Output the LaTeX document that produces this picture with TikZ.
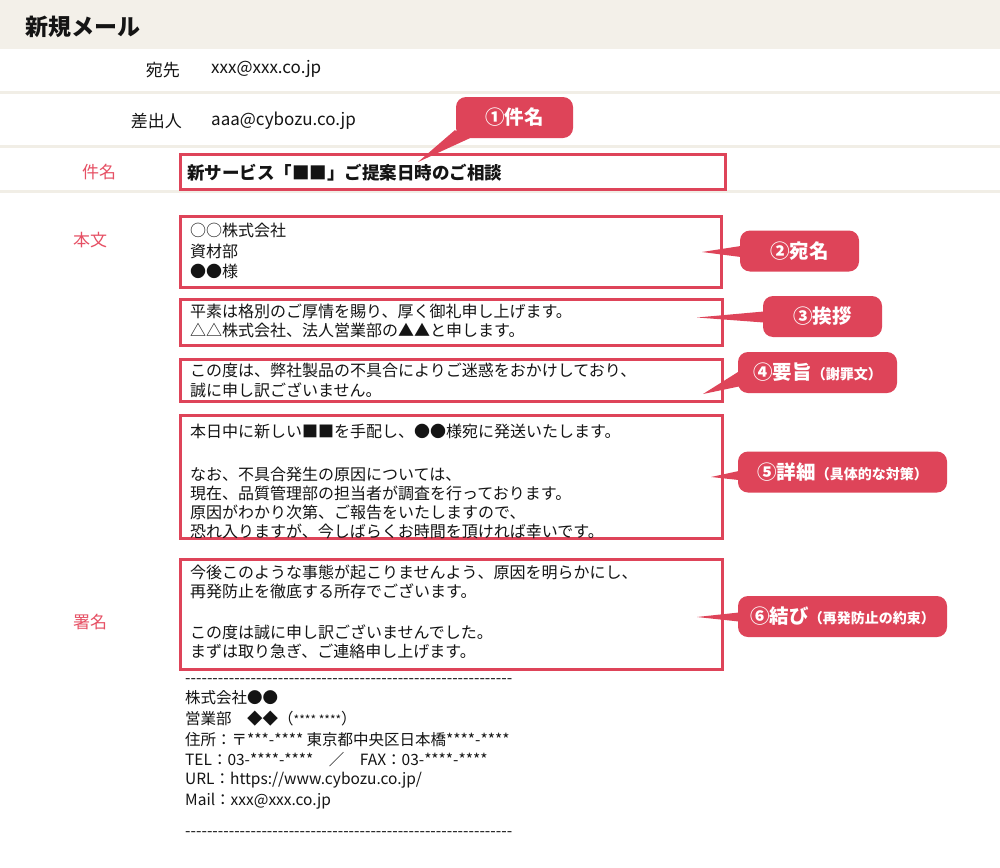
\documentclass[tikz,border=0pt]{standalone}
\usepackage{fontspec}
\usepackage{graphicx}
\setmainfont{Noto Sans CJK JP}
\definecolor{hdrbg}{RGB}{243,240,233}
\definecolor{sepc}{RGB}{241,238,230}
\definecolor{mred}{RGB}{222,68,89}
\definecolor{lred}{RGB}{230,80,100}
\definecolor{txt}{RGB}{20,20,20}
\newcommand{\hy}{-\kern0pt}
\newcommand{\hyten}{\hy\hy\hy\hy\hy\hy\hy\hy\hy\hy}
\newcommand{\hyph}{\hyten\hyten\hyten\hyten\hyten\hyten}
\newcommand{\paren}[1]{{\fontsize{14}{16}\selectfont #1}}
\begin{document}
\begin{tikzpicture}[x=1pt,y=-1pt,
  sepline/.style={draw=sepc, line width=3pt},
  redbox/.style={draw=mred, line width=3pt, inner sep=0pt},
  btext/.style={anchor=west, inner sep=0pt, text=txt, text height=14.1pt, text depth=1.9pt, font=\fontsize{16}{20}\selectfont},
  stext/.style={anchor=west, inner sep=0pt, text=txt, text height=13.6pt, text depth=1.9pt, font=\fontsize{15.5}{19}\selectfont},
  ftext/.style={inner sep=0pt, text=txt, text height=15pt, text depth=2pt, font=\fontsize{17}{20}\selectfont},
  flabel/.style={inner sep=0pt, text=lred, text height=15pt, text depth=2pt, font=\fontsize{17}{20}\selectfont},
  callout/.style={fill=mred, rounded corners=10pt, text=white, inner sep=0pt, minimum height=41pt, font=\fontsize{19.5}{22}\selectfont\bfseries},
  tailc/.style={fill=mred, draw=none}
]
\useasboundingbox (0,0) rectangle (1000,867);
\fill[white] (0,0) rectangle (1000,867);
% header
\fill[hdrbg] (0,0) rectangle (1000,49);
\node[anchor=west, inner sep=0pt, text=txt, font=\fontsize{23}{26}\selectfont\bfseries] (title) at (25,27) {新規メール};
% separators
\draw[sepline] (0,92) -- (1000,92);
\draw[sepline] (0,146) -- (1000,146);
\draw[sepline] (0,191.5) -- (1000,191.5);
% header fields
\node[ftext, anchor=east] (lto) at (180,70) {宛先};
\node[ftext, anchor=west] (vto) at (211,67) {xxx@xxx.co.jp};
\node[ftext, anchor=east] (lfrom) at (182,121) {差出人};
\node[ftext, anchor=west] (vfrom) at (211,119) {aaa@cybozu.co.jp};
\node[flabel] (lsubj) at (99,172) {件名};
\node[flabel] (lbody) at (90,240) {本文};
\node[flabel] (lsig) at (90,622) {署名};
% boxes
\node[redbox, minimum width=545pt, minimum height=34.5pt] (box1) at (453,171.75) {};
\node[redbox, minimum width=541pt, minimum height=71pt] (box2) at (451,252) {};
\node[redbox, minimum width=542pt, minimum height=46pt] (box3) at (451.5,322.5) {};
\node[redbox, minimum width=542pt, minimum height=42pt] (box4) at (451.5,380) {};
\node[redbox, minimum width=542pt, minimum height=123pt] (box5) at (451.5,477) {};
\node[redbox, minimum width=542pt, minimum height=110pt] (box6) at (451.5,614.5) {};
% subject
\node[anchor=west, inner sep=0pt, text=txt, text height=15.4pt, text depth=2.1pt, font=\fontsize{17.5}{20}\selectfont\bfseries] (subj) at (187,173) {新サービス「■■」ご提案日時のご相談};
% box2
\node[btext] (t2a) at (190,230) {○○株式会社};
\node[btext] (t2b) at (190,251) {資材部};
\node[btext] (t2c) at (190,271) {●●様};
% box3
\node[btext] (t3a) at (190,311) {平素は格別のご厚情を賜り、厚く御礼申し上げます。};
\node[btext] (t3b) at (190,330) {△△株式会社、法人営業部の▲▲と申します。};
% box4
\node[btext] (t4a) at (190,370) {この度は、弊社製品の不具合によりご迷惑をおかけしており、};
\node[btext] (t4b) at (190,390) {誠に申し訳ございません。};
% box5
\node[btext] (t5a) at (190,431) {本日中に新しい■■を手配し、●●様宛に発送いたします。};
\node[btext] (t5b) at (190,474) {なお、不具合発生の原因については、};
\node[btext] (t5c) at (190,493) {現在、品質管理部の担当者が調査を行っております。};
\node[btext] (t5d) at (190,512) {原因がわかり次第、ご報告をいたしますので、};
\node[btext] (t5e) at (190,531) {恐れ入りますが、今しばらくお時間を頂ければ幸いです。};
% box6
\node[btext] (t6a) at (190,572) {今後このような事態が起こりませんよう、原因を明らかにし、};
\node[btext] (t6b) at (190,591) {再発防止を徹底する所存でございます。};
\node[btext] (t6c) at (190,632) {この度は誠に申し訳ございませんでした。};
\node[btext] (t6d) at (190,651) {まずは取り急ぎ、ご連絡申し上げます。};
% signature
\node[stext] (sd1) at (185,678) {\resizebox{327pt}{\height}{\hyph}};
\node[stext] (s1) at (185,698) {株式会社●●};
\node[stext] (s2) at (185,719) {営業部　◆◆（\fontsize{12}{14}\selectfont **** ****\fontsize{15.5}{19}\selectfont）};
\node[stext] (s3) at (185,740) {住所：〒***-**** 東京都中央区日本橋****-****};
\node[stext] (s4) at (185,760) {TEL：03-****-****　／　FAX：03-****-****};
\node[stext] (s5) at (185,779) {URL：https://www.cybozu.co.jp/};
\node[stext] (s6) at (185,800) {Mail：xxx@xxx.co.jp};
\node[stext] (sd2) at (185,831) {\resizebox{327pt}{\height}{\hyph}};
% callouts
\node[callout, minimum width=117pt] (c1) at (514.5,117.5) {①件名};
\node[callout, minimum width=119pt] (c2) at (799.5,251) {②宛名};
\node[callout, minimum width=119pt] (c3) at (822.5,316.5) {③挨拶};
\node[callout, minimum width=159pt] (c4) at (817.5,372.5) {④要旨\paren{（謝罪文）}};
\node[callout, minimum width=209pt] (c5) at (842.5,472) {⑤詳細\paren{（具体的な対策）}};
\node[callout, minimum width=209pt] (c6) at (842.5,616.5) {⑥結び\paren{（再発防止の約束）}};
% tails
\coordinate (p1) at (418,162);
\coordinate (p2) at (702,252);
\coordinate (p3) at (697,317.5);
\coordinate (p4) at (703,394);
\coordinate (p5) at (711,477);
\coordinate (p6) at (697,617);
\fill[tailc] ([xshift=-1pt,yshift=8pt]c1.south west) -- (p1) -- ([xshift=14pt,yshift=0pt]c1.south west) -- ([xshift=14pt,yshift=3pt]c1.south west) -- cycle;
\fill[tailc] ([xshift=1pt,yshift=5pt]c2.west) -- (p2) -- ([xshift=1pt,yshift=-6pt]c2.west) -- cycle;
\fill[tailc] ([xshift=1pt,yshift=5pt]c3.west) -- (p3) -- ([xshift=1pt,yshift=-6pt]c3.west) -- cycle;
\fill[tailc] ([xshift=1pt,yshift=1pt]c4.west) -- (p4) -- ([xshift=1pt,yshift=-14pt]c4.west) -- cycle;
\fill[tailc] ([xshift=1pt,yshift=1pt]c5.west) -- (p5) -- ([xshift=1pt,yshift=-8pt]c5.west) -- cycle;
\fill[tailc] ([xshift=1pt,yshift=4pt]c6.west) -- (p6) -- ([xshift=1pt,yshift=-5pt]c6.west) -- cycle;
\end{tikzpicture}
\end{document}
